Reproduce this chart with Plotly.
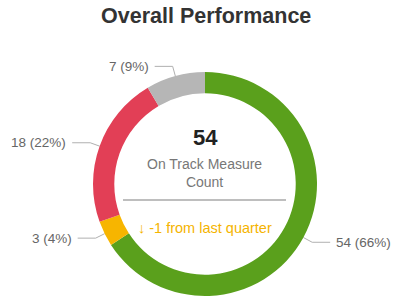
import math
import plotly.graph_objects as go

# ---- data ----
categories = ["On Track", "Minor Risk", "Off Track", "No Data"]
values = [54, 3, 18, 7]
colors = ["#5aa01c", "#f7b500", "#e23f56", "#b6b6b6"]
center_value = 54
center_label = "On Track Measure<br>Count"
change_text = "\u2193 -1 from last quarter"
title_text = "Overall Performance"

# ---- layout constants (pixels) ----
W, H = 406, 299
CX, CY, R = 205, 184, 112
HOLE = 0.81

total = sum(values)
fig = go.Figure()

fig.add_trace(go.Pie(
    values=values, labels=categories, marker=dict(colors=colors, line=dict(width=0)),
    sort=False, direction="clockwise", rotation=0, hole=HOLE,
    textinfo="none", hoverinfo="label+value+percent", showlegend=False,
    domain=dict(x=[(CX - R) / W, (CX + R) / W], y=[1 - (CY + R) / H, 1 - (CY - R) / H]),
))

# leader lines and labels computed from values
cum = 0
annotations = []
for v in values:
    mid = (cum + v / 2) / total * 2 * math.pi
    cum += v
    sx, cy_ = math.sin(mid), math.cos(mid)
    x0, y0 = CX + R * sx, CY - R * cy_
    x1, y1 = CX + (R + 10) * sx, CY - (R + 10) * cy_
    side = 1 if sx > 0 else -1
    x2 = x1 + side * 18
    fig.add_trace(go.Scatter(x=[x0, x1, x2], y=[y0, y1, y1], mode="lines",
                             line=dict(color="#b0b0b0", width=1), hoverinfo="skip",
                             showlegend=False))
    pct = round(100 * v / total)
    annotations.append(dict(x=x2 + side * 4, y=y1, xref="x", yref="y",
                            text=f"{v} ({pct}%)", showarrow=False,
                            xanchor="left" if side > 0 else "right", yanchor="middle",
                            font=dict(size=13.5, color="#666666")))

annotations += [
    dict(x=CX + 1, y=16, xref="x", yref="y", text=f"<b>{title_text}</b>", showarrow=False,
         font=dict(size=21.5, color="#333333"), xanchor="center", yanchor="middle"),
    dict(x=CX, y=137, xref="x", yref="y", text=f"<b>{center_value}</b>", showarrow=False,
         font=dict(size=22, color="#222222"), xanchor="center", yanchor="middle"),
    dict(x=CX - 1, y=173, xref="x", yref="y", text=center_label, showarrow=False,
         font=dict(size=14, color="#777777"), xanchor="center", yanchor="middle"),
    dict(x=CX, y=228, xref="x", yref="y", text=change_text, showarrow=False,
         font=dict(size=14.5, color="#f5b400"), xanchor="center", yanchor="middle"),
]

fig.add_shape(type="line", x0=123, x1=286, y0=200, y1=200, xref="x", yref="y",
              line=dict(color="#a8a8a8", width=1.5))

fig.update_layout(
    width=W, height=H, autosize=False,
    margin=dict(l=0, r=0, t=0, b=0),
    paper_bgcolor="white", plot_bgcolor="white",
    font=dict(family="Liberation Sans, Arial, sans-serif"),
    xaxis=dict(range=[0, W], visible=False, fixedrange=True),
    yaxis=dict(range=[H, 0], visible=False, fixedrange=True),
    annotations=annotations,
)

fig.write_html("out.html", config={"displayModeBar": False})
